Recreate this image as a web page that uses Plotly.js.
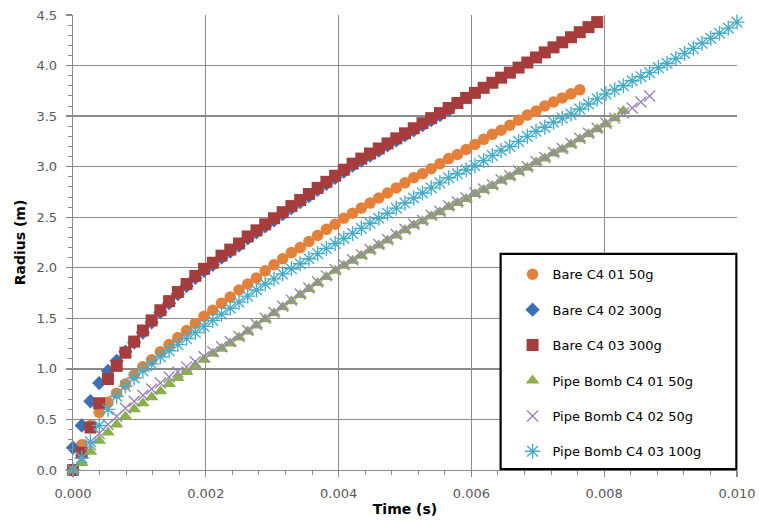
<!DOCTYPE html>
<html>
<head>
<meta charset="utf-8">
<script src="https://cdn.plot.ly/plotly-3.0.1.min.js"></script>
<style>html,body{margin:0;padding:0;background:#fff;}#chart{width:759px;height:520px;}</style>
</head>
<body>
<div id="chart"></div>
<script>
// Frame times (s), camera at 7600 fps
const frameTimes = [0,0.0001316,0.0002632,0.0003947,0.0005263,0.0006579,0.0007895,0.0009211,0.0010526,0.0011842,
0.0013158,0.0014474,0.0015789,0.0017105,0.0018421,0.0019737,0.0021053,0.0022368,0.0023684,0.0025,
0.0026316,0.0027632,0.0028947,0.0030263,0.0031579,0.0032895,0.0034211,0.0035526,0.0036842,0.0038158,
0.0039474,0.0040789,0.0042105,0.0043421,0.0044737,0.0046053,0.0047368,0.0048684,0.005,0.0051316,
0.0052632,0.0053947,0.0055263,0.0056579,0.0057895,0.0059211,0.0060526,0.0061842,0.0063158,0.0064474,
0.0065789,0.0067105,0.0068421,0.0069737,0.0071053,0.0072368,0.0073684,0.0075,0.0076316,0.0077632,
0.0078947,0.0080263,0.0081579,0.0082895,0.0084211,0.0085526,0.0086842,0.0088158,0.0089474,0.0090789,
0.0092105,0.0093421,0.0094737,0.0096053,0.0097368,0.0098684,0.01];

const seriesNames = ["Bare C4 01 50g","Bare C4 02 300g","Bare C4 03 300g","Pipe Bomb C4 01 50g","Pipe Bomb C4 02 50g","Pipe Bomb C4 03 100g"];

const bare01 = [0.00,0.25,0.44,0.57,0.67,0.76,0.85,0.94,1.02,1.09,1.17,1.24,1.31,1.38,1.45,1.52,1.58,1.65,1.71,1.78,
1.84,1.90,1.97,2.03,2.09,2.15,2.20,2.26,2.32,2.38,2.43,2.49,2.54,2.59,2.64,2.69,2.74,2.79,2.84,2.89,
2.93,2.98,3.03,3.08,3.12,3.17,3.22,3.27,3.32,3.36,3.41,3.46,3.51,3.55,3.60,3.64,3.68,3.72,3.76];

const bare02 = [0.22,0.44,0.68,0.86,0.98,1.08,1.17,1.26,1.36,1.46,1.56,1.65,1.74,1.82,1.90,1.97,2.03,2.10,2.16,2.22,
2.29,2.35,2.41,2.47,2.53,2.59,2.65,2.71,2.77,2.83,2.89,2.95,3.01,3.06,3.11,3.16,3.21,3.26,3.31,3.36,
3.41,3.46,3.51,3.56];

const bare03 = [0.00,0.17,0.42,0.66,0.90,1.03,1.16,1.27,1.38,1.48,1.58,1.67,1.76,1.84,1.92,1.99,2.05,2.12,2.18,2.24,
2.31,2.37,2.43,2.49,2.55,2.61,2.67,2.73,2.79,2.85,2.91,2.97,3.03,3.08,3.13,3.18,3.23,3.28,3.33,3.38,
3.43,3.48,3.53,3.58,3.63,3.68,3.73,3.78,3.83,3.88,3.93,3.98,4.03,4.08,4.13,4.18,4.23,4.28,4.33,4.38,4.43];

const pipe01 = [0.00,0.07,0.18,0.29,0.37,0.45,0.53,0.60,0.66,0.72,0.78,0.85,0.91,0.97,1.03,1.09,1.15,1.20,1.25,1.31,
1.37,1.43,1.49,1.55,1.61,1.67,1.73,1.79,1.85,1.91,1.97,2.02,2.07,2.12,2.17,2.22,2.27,2.32,2.37,2.42,
2.46,2.51,2.55,2.60,2.64,2.68,2.73,2.77,2.81,2.86,2.90,2.95,2.99,3.04,3.08,3.13,3.17,3.22,3.27,3.32,
3.37,3.42,3.48,3.55];

const pipe02 = [0.00,0.12,0.25,0.36,0.45,0.53,0.61,0.68,0.74,0.80,0.86,0.92,0.97,1.02,1.07,1.12,1.17,1.22,1.27,1.32,
1.38,1.44,1.50,1.56,1.62,1.68,1.74,1.80,1.86,1.92,1.98,2.03,2.08,2.13,2.18,2.23,2.28,2.33,2.38,2.43,
2.47,2.52,2.56,2.61,2.65,2.69,2.74,2.78,2.82,2.87,2.91,2.96,3.00,3.05,3.09,3.14,3.18,3.23,3.28,3.33,
3.38,3.43,3.48,3.53,3.58,3.64,3.70];

const pipe03 = [0.00,0.12,0.28,0.44,0.60,0.73,0.83,0.91,0.98,1.05,1.12,1.18,1.24,1.30,1.36,1.42,1.48,1.54,1.60,1.66,
1.72,1.78,1.84,1.89,1.94,1.99,2.04,2.09,2.14,2.19,2.24,2.29,2.34,2.39,2.44,2.49,2.54,2.59,2.64,2.69,
2.74,2.79,2.84,2.89,2.93,2.97,3.01,3.06,3.11,3.16,3.20,3.25,3.30,3.35,3.39,3.44,3.48,3.52,3.57,3.62,
3.67,3.72,3.76,3.80,3.85,3.89,3.93,3.98,4.02,4.07,4.12,4.17,4.22,4.27,4.32,4.37,4.43];

const xTickVals = [0,0.002,0.004,0.006,0.008,0.010];
const yTickVals = [0,0.5,1.0,1.5,2.0,2.5,3.0,3.5,4.0,4.5];

const FONT = "DejaVu Sans, sans-serif";
const grid = "#8a8a8a";

function tr(i, y, marker) {
  return {
    type: "scatter", mode: "markers", name: seriesNames[i],
    x: frameTimes.slice(0, y.length), y: y,
    marker: marker, legendgroup: "g" + i, cliponaxis: false
  };
}

const data = [
  tr(0, bare01, {symbol: "circle", size: 11.5, color: "#E5803A"}),
  tr(1, bare02, {symbol: "diamond", size: 11, color: "#3D6FB5"}),
  tr(2, bare03, {symbol: "square", size: 12, color: "#A63C3B"}),
  tr(3, pipe01, {symbol: "triangle-up", size: 12, color: "#8CB049"}),
  tr(4, pipe02, {symbol: "x-thin-open", size: 11, color: "#9883B8", line: {width: 1.4, color: "#9883B8"}}),
  tr(5, pipe03, {symbol: "asterisk-open", size: 12.5, color: "#46ACC8", line: {width: 1.4, color: "#46ACC8"}})
];

const layout = {
  width: 759, height: 520,
  margin: {l: 73, r: 22, t: 15, b: 50},
  paper_bgcolor: "#fff", plot_bgcolor: "#fff",
  font: {family: FONT, size: 13, color: "#595959"},
  showlegend: true,
  legend: {
    x: 0.662, y: 0.463, xanchor: "left", yanchor: "top",
    bgcolor: "rgba(0,0,0,0)", borderwidth: 0,
    font: {family: FONT, size: 13, color: "#000"},
    tracegroupgap: 15.5, itemwidth: 30
  },
  xaxis: {
    range: [0, 0.010], tickvals: xTickVals, tickformat: ".3f",
    showgrid: true, gridcolor: grid, gridwidth: 1.3,
    showline: true, linecolor: grid, linewidth: 1.3,
    ticks: "outside", ticklen: 6, tickcolor: grid, tickwidth: 1.3,
    ticklabelstandoff: 5,
    minor: {dtick: 0.0004, ticks: "outside", ticklen: 4, tickcolor: grid, tickwidth: 1, showgrid: false},
    zeroline: false,
    title: {text: "<b>Time (s)</b>", font: {family: FONT, size: 14, color: "#000"}, standoff: 4}
  },
  yaxis: {
    range: [0, 4.5], tickvals: yTickVals, tickformat: ".1f",
    showgrid: true, gridcolor: grid, gridwidth: 1.3,
    showline: true, linecolor: grid, linewidth: 1.3,
    ticks: "outside", ticklen: 6, tickcolor: grid, tickwidth: 1.3,
    ticklabelstandoff: 6,
    minor: {dtick: 0.1, ticks: "outside", ticklen: 4, tickcolor: grid, tickwidth: 1, showgrid: false},
    zeroline: false,
    title: {text: "<b>Radius (m)</b>", font: {family: FONT, size: 14, color: "#000"}, standoff: 7}
  },
  shapes: [{
    type: "rect", xref: "paper", yref: "paper", layer: "above",
    x0: 0.644, x1: 0.999, y0: 0.002, y1: 0.475,
    line: {color: "#000", width: 2.2}, fillcolor: "#fff"
  }]
};

Plotly.newPlot("chart", data, layout, {displayModeBar: false, staticPlot: true});
</script>
</body>
</html>
